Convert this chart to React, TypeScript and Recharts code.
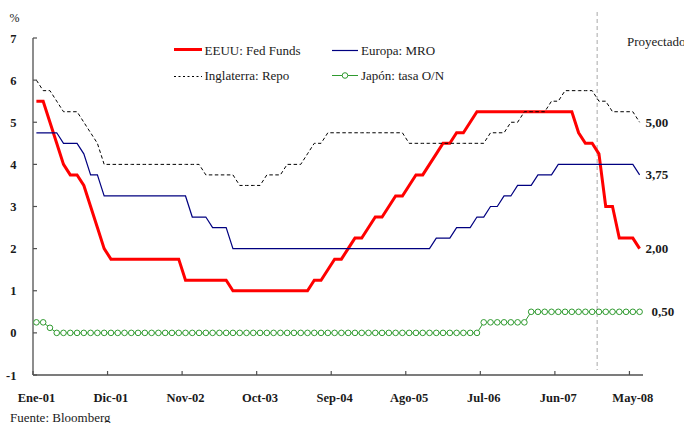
import React from 'react';
import { LineChart, Line, XAxis, YAxis, ReferenceLine, LabelList } from 'recharts';

const categories = [
  'Ene-01','Feb-01','Mar-01','Abr-01','May-01','Jun-01','Jul-01','Ago-01','Sep-01','Oct-01','Nov-01','Dic-01',
  'Ene-02','Feb-02','Mar-02','Abr-02','May-02','Jun-02','Jul-02','Ago-02','Sep-02','Oct-02','Nov-02','Dic-02',
  'Ene-03','Feb-03','Mar-03','Abr-03','May-03','Jun-03','Jul-03','Ago-03','Sep-03','Oct-03','Nov-03','Dic-03',
  'Ene-04','Feb-04','Mar-04','Abr-04','May-04','Jun-04','Jul-04','Ago-04','Sep-04','Oct-04','Nov-04','Dic-04',
  'Ene-05','Feb-05','Mar-05','Abr-05','May-05','Jun-05','Jul-05','Ago-05','Sep-05','Oct-05','Nov-05','Dic-05',
  'Ene-06','Feb-06','Mar-06','Abr-06','May-06','Jun-06','Jul-06','Ago-06','Sep-06','Oct-06','Nov-06','Dic-06',
  'Ene-07','Feb-07','Mar-07','Abr-07','May-07','Jun-07','Jul-07','Ago-07','Sep-07','Oct-07','Nov-07','Dic-07',
  'Ene-08','Feb-08','Mar-08','Abr-08','May-08','Jun-08',
];

const fedFunds = [
  5.5, 5.5, 5.0, 4.5, 4.0, 3.75, 3.75, 3.5, 3.0, 2.5, 2.0, 1.75,
  1.75, 1.75, 1.75, 1.75, 1.75, 1.75, 1.75, 1.75, 1.75, 1.75, 1.25, 1.25,
  1.25, 1.25, 1.25, 1.25, 1.25, 1.0, 1.0, 1.0, 1.0, 1.0, 1.0, 1.0,
  1.0, 1.0, 1.0, 1.0, 1.0, 1.25, 1.25, 1.5, 1.75, 1.75, 2.0, 2.25,
  2.25, 2.5, 2.75, 2.75, 3.0, 3.25, 3.25, 3.5, 3.75, 3.75, 4.0, 4.25,
  4.5, 4.5, 4.75, 4.75, 5.0, 5.25, 5.25, 5.25, 5.25, 5.25, 5.25, 5.25,
  5.25, 5.25, 5.25, 5.25, 5.25, 5.25, 5.25, 5.25, 4.75, 4.5, 4.5, 4.25,
  3.0, 3.0, 2.25, 2.25, 2.25, 2.0,
];

const europaMRO = [
  4.75, 4.75, 4.75, 4.75, 4.5, 4.5, 4.5, 4.25, 3.75, 3.75, 3.25, 3.25,
  3.25, 3.25, 3.25, 3.25, 3.25, 3.25, 3.25, 3.25, 3.25, 3.25, 3.25, 2.75,
  2.75, 2.75, 2.5, 2.5, 2.5, 2.0, 2.0, 2.0, 2.0, 2.0, 2.0, 2.0,
  2.0, 2.0, 2.0, 2.0, 2.0, 2.0, 2.0, 2.0, 2.0, 2.0, 2.0, 2.0,
  2.0, 2.0, 2.0, 2.0, 2.0, 2.0, 2.0, 2.0, 2.0, 2.0, 2.0, 2.25,
  2.25, 2.25, 2.5, 2.5, 2.5, 2.75, 2.75, 3.0, 3.0, 3.25, 3.25, 3.5,
  3.5, 3.5, 3.75, 3.75, 3.75, 4.0, 4.0, 4.0, 4.0, 4.0, 4.0, 4.0,
  4.0, 4.0, 4.0, 4.0, 4.0, 3.75,
];

const inglaterraRepo = [
  6.0, 5.75, 5.75, 5.5, 5.25, 5.25, 5.25, 5.0, 4.75, 4.5, 4.0, 4.0,
  4.0, 4.0, 4.0, 4.0, 4.0, 4.0, 4.0, 4.0, 4.0, 4.0, 4.0, 4.0,
  4.0, 3.75, 3.75, 3.75, 3.75, 3.75, 3.5, 3.5, 3.5, 3.5, 3.75, 3.75,
  3.75, 4.0, 4.0, 4.0, 4.25, 4.5, 4.5, 4.75, 4.75, 4.75, 4.75, 4.75,
  4.75, 4.75, 4.75, 4.75, 4.75, 4.75, 4.75, 4.5, 4.5, 4.5, 4.5, 4.5,
  4.5, 4.5, 4.5, 4.5, 4.5, 4.5, 4.5, 4.75, 4.75, 4.75, 5.0, 5.0,
  5.25, 5.25, 5.25, 5.25, 5.5, 5.5, 5.75, 5.75, 5.75, 5.75, 5.75, 5.5,
  5.5, 5.25, 5.25, 5.25, 5.25, 5.0,
];

const japonON = [
  0.25, 0.25, 0.12, 0, 0, 0, 0, 0, 0, 0, 0, 0,
  0, 0, 0, 0, 0, 0, 0, 0, 0, 0, 0, 0,
  0, 0, 0, 0, 0, 0, 0, 0, 0, 0, 0, 0,
  0, 0, 0, 0, 0, 0, 0, 0, 0, 0, 0, 0,
  0, 0, 0, 0, 0, 0, 0, 0, 0, 0, 0, 0,
  0, 0, 0, 0, 0, 0, 0.25, 0.25, 0.25, 0.25, 0.25, 0.25,
  0.25, 0.5, 0.5, 0.5, 0.5, 0.5, 0.5, 0.5, 0.5, 0.5, 0.5, 0.5,
  0.5, 0.5, 0.5, 0.5, 0.5, 0.5,
];

const yTicks = [-1, 0, 1, 2, 3, 4, 5, 6, 7];
const projectionStart = 'Dic-07';

const seriesNames = {
  fed: 'EEUU: Fed Funds',
  eu: 'Europa: MRO',
  uk: 'Inglaterra: Repo',
  jp: 'Japón: tasa O/N',
};

const data = categories.map((cat, i) => ({
  cat,
  fed: fedFunds[i],
  eu: europaMRO[i],
  uk: inglaterraRepo[i],
  jp: japonON[i],
}));

const FONT = "'Liberation Serif', 'DejaVu Serif', serif";
const AXIS = '#505050';
const TXT = '#1a1a1a';
const RED = '#ff0000';
const BLUE = '#000080';
const GREEN = '#2f9a2f';
const HALF = 3.39;

const txt = (size: number, bold = false): React.CSSProperties => ({
  fontFamily: FONT,
  fontSize: size,
  fontWeight: bold ? 700 : 400,
});

const YTick = (p: any) => (
  <g>
    <line x1={p.x + 16.5} x2={p.x + 20.5} y1={p.y} y2={p.y} stroke={AXIS} strokeWidth={1.2} />
    <text x={p.x} y={p.y + 4.5} textAnchor="end" style={txt(12.5, true)} fill={TXT}>
      {p.payload.value}
    </text>
  </g>
);

const XTick = (p: any) => (
  <g>
    <line x1={p.x - HALF} x2={p.x - HALF} y1={p.y - 4} y2={p.y} stroke={AXIS} strokeWidth={1.2} />
    <text x={p.x} y={p.y + 26.5} textAnchor="middle" style={txt(12.5, true)} fill={TXT}>
      {p.payload.value}
    </text>
  </g>
);

const endLabel = (dx: number) => (p: any) => {
  if (p.index !== categories.length - 1) return null;
  return (
    <text x={Number(p.x) + dx} y={Number(p.y) + 4.5} style={txt(13, true)} fill={TXT}>
      {Number(p.value).toFixed(2).replace('.', ',')}
    </text>
  );
};

export default function App() {
  return (
    <div style={{ position: 'absolute', left: 0, top: 0, width: 684, height: 423, background: '#fff', fontFamily: FONT }}>
      <LineChart width={684} height={423} data={data} margin={{ top: 38, right: 41, bottom: 0, left: 0 }}>
        <XAxis
          dataKey="cat"
          interval={10}
          padding={{ left: HALF, right: HALF }}
          height={48}
          tickSize={0}
          tickMargin={0}
          tickLine={false}
          axisLine={{ stroke: AXIS, strokeWidth: 1.3 }}
          tick={XTick}
        />
        <YAxis
          domain={[-1, 7]}
          ticks={yTicks}
          width={33}
          tickSize={0}
          tickMargin={16.5}
          tickLine={false}
          axisLine={{ stroke: AXIS, strokeWidth: 1.3 }}
          tick={YTick}
          interval={0}
        />
        <ReferenceLine
          x={projectionStart}
          ifOverflow="visible"
          shape={(p: any) => (
            <line x1={p.x1 - 1.8} x2={p.x1 - 1.8} y1={12} y2={370} stroke="#a8a8a8" strokeWidth={1} strokeDasharray="4 3" />
          )}
        />
        <Line type="linear" dataKey="fed" name={seriesNames.fed} stroke={RED} strokeWidth={3} dot={false} isAnimationActive={false}>
          <LabelList dataKey="fed" content={endLabel(6)} />
        </Line>
        <Line type="linear" dataKey="eu" name={seriesNames.eu} stroke={BLUE} strokeWidth={1.2} dot={false} isAnimationActive={false}>
          <LabelList dataKey="eu" content={endLabel(6)} />
        </Line>
        <Line type="linear" dataKey="uk" name={seriesNames.uk} stroke="#000" strokeWidth={1} strokeDasharray="3.5 2.5" dot={false} isAnimationActive={false}>
          <LabelList dataKey="uk" content={endLabel(6)} />
        </Line>
        <Line
          type="linear"
          dataKey="jp"
          name={seriesNames.jp}
          stroke={GREEN}
          strokeWidth={1}
          dot={{ r: 2.8, fill: '#fff', stroke: GREEN, strokeWidth: 1 }}
          isAnimationActive={false}
        >
          <LabelList dataKey="jp" content={endLabel(12)} />
        </Line>
      </LineChart>
      <svg width={684} height={423} style={{ position: 'absolute', left: 0, top: 0, pointerEvents: 'none' }}>
        <text x={9.5} y={21.5} style={txt(12)} fill={TXT}>%</text>
        <text x={627} y={46} style={txt(13)} fill={TXT}>Proyectado</text>
        <text x={10} y={421.5} style={txt(13)} fill={TXT}>Fuente: Bloomberg</text>
        <line x1={174} x2={202} y1={49.5} y2={49.5} stroke={RED} strokeWidth={3} />
        <text x={204.5} y={55} style={txt(13)} fill={TXT}>{seriesNames.fed}</text>
        <line x1={332} x2={358} y1={50.5} y2={50.5} stroke={BLUE} strokeWidth={1.2} />
        <text x={361} y={55} style={txt(13)} fill={TXT}>{seriesNames.eu}</text>
        <line x1={174} x2={202} y1={76.5} y2={76.5} stroke="#000" strokeWidth={1} strokeDasharray="2 2.5" />
        <text x={204.5} y={80} style={txt(13)} fill={TXT}>{seriesNames.uk}</text>
        <line x1={332} x2={358} y1={75.5} y2={75.5} stroke={GREEN} strokeWidth={1} />
        <circle cx={345} cy={75.5} r={2.8} fill="#fff" stroke={GREEN} strokeWidth={1} />
        <text x={361} y={80} style={txt(13)} fill={TXT}>{seriesNames.jp}</text>
      </svg>
    </div>
  );
}
